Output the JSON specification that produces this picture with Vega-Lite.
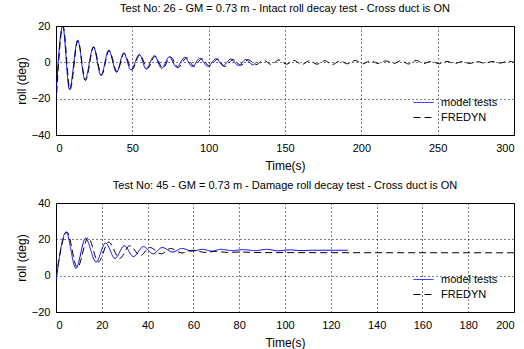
{
  "$schema": "https://vega.github.io/schema/vega-lite/v6.json",
  "background": "white",
  "padding": {"left": 14, "top": 2, "right": 0, "bottom": 2},
  "spacing": 7,
  "resolve": {"scale": {"color": "independent", "strokeDash": "independent"}},
  "config": {
    "font": "Liberation Sans",
    "view": {"stroke": "black", "strokeWidth": 1},
    "axis": {
      "labelFont": "Liberation Sans", "labelFontSize": 11, "labelColor": "black",
      "titleFont": "Liberation Sans", "titleFontSize": 12, "titleFontWeight": "normal", "titleColor": "black",
      "grid": true, "gridColor": "black", "gridDash": [1, 3], "gridOpacity": 1, "gridWidth": 1,
      "domain": false, "ticks": false, "labelPadding": 6
    },
    "axisX": {"titlePadding": 7, "labelPadding": 7},
    "axisY": {"titlePadding": 3},
    "title": {"font": "Liberation Sans", "fontSize": 11, "fontWeight": "normal", "color": "black", "offset": 6},
    "legend": {"labelFont": "Liberation Sans", "labelFontSize": 11, "labelColor": "black", "symbolType": "M-2,0H2", "symbolSize": 100, "symbolStrokeWidth": 1, "rowPadding": 3, "padding": 0, "labelOffset": 12}
  },
  "datasets": {
    "intact": [
      {"series": "model tests", "t": 0, "roll": -18},
      {"series": "model tests", "t": 4.4, "roll": 20},
      {"series": "model tests", "t": 8.8, "roll": -15},
      {"series": "model tests", "t": 14.2, "roll": 12.2},
      {"series": "model tests", "t": 19, "roll": -9.7},
      {"series": "model tests", "t": 24.5, "roll": 8.5},
      {"series": "model tests", "t": 29.5, "roll": -7.3},
      {"series": "model tests", "t": 34.5, "roll": 6.7},
      {"series": "model tests", "t": 39.7, "roll": -5.5},
      {"series": "model tests", "t": 44.3, "roll": 5.2},
      {"series": "model tests", "t": 49.1, "roll": -4.2},
      {"series": "model tests", "t": 54.6, "roll": 4.4},
      {"series": "model tests", "t": 59, "roll": -3.7},
      {"series": "model tests", "t": 64.4, "roll": 3.6},
      {"series": "model tests", "t": 69.2, "roll": -3.3},
      {"series": "model tests", "t": 74.2, "roll": 3},
      {"series": "model tests", "t": 79, "roll": -2.7},
      {"series": "model tests", "t": 84.3, "roll": 2.7},
      {"series": "model tests", "t": 89.3, "roll": -2.4},
      {"series": "model tests", "t": 94.2, "roll": 2.2},
      {"series": "model tests", "t": 99.4, "roll": -2.2},
      {"series": "model tests", "t": 104.8, "roll": 2},
      {"series": "model tests", "t": 109.5, "roll": -1.8},
      {"series": "model tests", "t": 114.5, "roll": 1.8},
      {"series": "model tests", "t": 119.5, "roll": -1.7},
      {"series": "model tests", "t": 124.5, "roll": 1.6},
      {"series": "model tests", "t": 129, "roll": -1.4},
      {"series": "model tests", "t": 131, "roll": 0},
      {"series": "FREDYN", "t": 0, "roll": -23},
      {"series": "FREDYN", "t": 4.6, "roll": 20},
      {"series": "FREDYN", "t": 9.2, "roll": -15},
      {"series": "FREDYN", "t": 14.4, "roll": 12},
      {"series": "FREDYN", "t": 19.3, "roll": -10},
      {"series": "FREDYN", "t": 24.7, "roll": 8.5},
      {"series": "FREDYN", "t": 29.8, "roll": -7},
      {"series": "FREDYN", "t": 34.8, "roll": 6.5},
      {"series": "FREDYN", "t": 40, "roll": -5.2},
      {"series": "FREDYN", "t": 44.7, "roll": 5},
      {"series": "FREDYN", "t": 49.7, "roll": -4},
      {"series": "FREDYN", "t": 55, "roll": 4.2},
      {"series": "FREDYN", "t": 59.8, "roll": -3.4},
      {"series": "FREDYN", "t": 65, "roll": 3.4},
      {"series": "FREDYN", "t": 70, "roll": -3.2},
      {"series": "FREDYN", "t": 75, "roll": 3},
      {"series": "FREDYN", "t": 80, "roll": -2.8},
      {"series": "FREDYN", "t": 85.5, "roll": 2.5},
      {"series": "FREDYN", "t": 90.5, "roll": -2.2},
      {"series": "FREDYN", "t": 95.5, "roll": 2},
      {"series": "FREDYN", "t": 100.5, "roll": -2},
      {"series": "FREDYN", "t": 106, "roll": 1.8},
      {"series": "FREDYN", "t": 110.5, "roll": -2.4},
      {"series": "FREDYN", "t": 116, "roll": 1.5},
      {"series": "FREDYN", "t": 121, "roll": -1.6},
      {"series": "FREDYN", "t": 126, "roll": 1.4},
      {"series": "FREDYN", "t": 131, "roll": -1.3},
      {"series": "FREDYN", "t": 136, "roll": 1.2},
      {"series": "FREDYN", "t": 141, "roll": -1.2},
      {"series": "FREDYN", "t": 146, "roll": 1.3},
      {"series": "FREDYN", "t": 151, "roll": -1},
      {"series": "FREDYN", "t": 156, "roll": 1},
      {"series": "FREDYN", "t": 161, "roll": -1.2},
      {"series": "FREDYN", "t": 166, "roll": 0.8},
      {"series": "FREDYN", "t": 171, "roll": -1},
      {"series": "FREDYN", "t": 176, "roll": 0.9},
      {"series": "FREDYN", "t": 181, "roll": -1.2},
      {"series": "FREDYN", "t": 186, "roll": 0.8},
      {"series": "FREDYN", "t": 191, "roll": -0.8},
      {"series": "FREDYN", "t": 196, "roll": 1},
      {"series": "FREDYN", "t": 201, "roll": -0.8},
      {"series": "FREDYN", "t": 206, "roll": 0.9},
      {"series": "FREDYN", "t": 211, "roll": -0.6},
      {"series": "FREDYN", "t": 216, "roll": 0.8},
      {"series": "FREDYN", "t": 221, "roll": -0.7},
      {"series": "FREDYN", "t": 226, "roll": 0.9},
      {"series": "FREDYN", "t": 231, "roll": -0.9},
      {"series": "FREDYN", "t": 236, "roll": 1},
      {"series": "FREDYN", "t": 241, "roll": -0.6},
      {"series": "FREDYN", "t": 246, "roll": 0.6},
      {"series": "FREDYN", "t": 251, "roll": -0.8},
      {"series": "FREDYN", "t": 256, "roll": 0.5},
      {"series": "FREDYN", "t": 261, "roll": -0.7},
      {"series": "FREDYN", "t": 266, "roll": 0.4},
      {"series": "FREDYN", "t": 271, "roll": -0.6},
      {"series": "FREDYN", "t": 276, "roll": 0.4},
      {"series": "FREDYN", "t": 281, "roll": -0.5},
      {"series": "FREDYN", "t": 286, "roll": 0.5},
      {"series": "FREDYN", "t": 291, "roll": -0.4},
      {"series": "FREDYN", "t": 296, "roll": 0.6},
      {"series": "FREDYN", "t": 300, "roll": 0}
    ],
    "damage": [
      {"series": "model tests", "t": 0, "roll": -3},
      {"series": "model tests", "t": 4.4, "roll": 24},
      {"series": "model tests", "t": 8.7, "roll": 4},
      {"series": "model tests", "t": 12.9, "roll": 20.5},
      {"series": "model tests", "t": 17.5, "roll": 7.5},
      {"series": "model tests", "t": 21.6, "roll": 18},
      {"series": "model tests", "t": 25.8, "roll": 9.5},
      {"series": "model tests", "t": 29.8, "roll": 16.5},
      {"series": "model tests", "t": 33.8, "roll": 10.5},
      {"series": "model tests", "t": 38.2, "roll": 16},
      {"series": "model tests", "t": 42.4, "roll": 12},
      {"series": "model tests", "t": 46.4, "roll": 15.5},
      {"series": "model tests", "t": 51, "roll": 13},
      {"series": "model tests", "t": 55, "roll": 15},
      {"series": "model tests", "t": 59.5, "roll": 13.5},
      {"series": "model tests", "t": 64, "roll": 14.5},
      {"series": "model tests", "t": 68, "roll": 13.5},
      {"series": "model tests", "t": 72, "roll": 14.5},
      {"series": "model tests", "t": 77, "roll": 13.8},
      {"series": "model tests", "t": 82, "roll": 14.3},
      {"series": "model tests", "t": 87, "roll": 13.8},
      {"series": "model tests", "t": 92, "roll": 14.5},
      {"series": "model tests", "t": 97, "roll": 13.7},
      {"series": "model tests", "t": 102, "roll": 14.2},
      {"series": "model tests", "t": 107, "roll": 13.8},
      {"series": "model tests", "t": 112, "roll": 14},
      {"series": "model tests", "t": 118, "roll": 14},
      {"series": "model tests", "t": 122, "roll": 14},
      {"series": "model tests", "t": 127.5, "roll": 14},
      {"series": "FREDYN", "t": 0, "roll": -1},
      {"series": "FREDYN", "t": 4.8, "roll": 24},
      {"series": "FREDYN", "t": 9.3, "roll": 4.5},
      {"series": "FREDYN", "t": 14.1, "roll": 21},
      {"series": "FREDYN", "t": 18.5, "roll": 7.5},
      {"series": "FREDYN", "t": 23, "roll": 18.5},
      {"series": "FREDYN", "t": 27.8, "roll": 9.5},
      {"series": "FREDYN", "t": 32.2, "roll": 16.5},
      {"series": "FREDYN", "t": 36.8, "roll": 11},
      {"series": "FREDYN", "t": 41, "roll": 15.5},
      {"series": "FREDYN", "t": 46, "roll": 12},
      {"series": "FREDYN", "t": 50, "roll": 15},
      {"series": "FREDYN", "t": 55, "roll": 12.5},
      {"series": "FREDYN", "t": 60, "roll": 14},
      {"series": "FREDYN", "t": 65, "roll": 12.8},
      {"series": "FREDYN", "t": 70, "roll": 13.4},
      {"series": "FREDYN", "t": 75, "roll": 12.8},
      {"series": "FREDYN", "t": 80, "roll": 13},
      {"series": "FREDYN", "t": 90, "roll": 12.7},
      {"series": "FREDYN", "t": 200, "roll": 12.6}
    ]
  },
  "vconcat": [
    {
      "width": 458, "height": 109,
      "title": "Test No: 26 - GM = 0.73 m - Intact roll decay test - Cross duct is ON",
      "data": {"name": "intact"},
      "mark": {"type": "line", "strokeWidth": 1, "interpolate": "monotone", "clip": true},
      "encoding": {
        "x": {"field": "t", "type": "quantitative", "title": "Time(s)", "scale": {"domain": [0, 300], "nice": false}, "axis": {"values": [0, 50, 100, 150, 200, 250, 300]}},
        "y": {"field": "roll", "type": "quantitative", "title": "roll (deg)", "scale": {"domain": [-40, 20], "nice": false}, "axis": {"values": [-40, -20, 0, 20]}},
        "color": {"field": "series", "type": "nominal", "scale": {"domain": ["model tests", "FREDYN"], "range": ["#0000ff", "#000000"]}, "legend": {"title": null, "orient": "none", "legendX": 362, "legendY": 71, "encode": {"symbols": {"update": {"strokeDash": {"signal": "datum.value === 'FREDYN' ? [7, 4] : [1, 0]"}}}}}},
        "strokeDash": {"field": "series", "type": "nominal", "scale": {"domain": ["model tests", "FREDYN"], "range": [[1, 0], [7, 4]]}, "legend": null}
      }
    },
    {
      "width": 458, "height": 109,
      "title": "Test No: 45 - GM = 0.73 m - Damage roll decay test - Cross duct is ON",
      "data": {"name": "damage"},
      "mark": {"type": "line", "strokeWidth": 1, "interpolate": "monotone", "clip": true},
      "encoding": {
        "x": {"field": "t", "type": "quantitative", "title": "Time(s)", "scale": {"domain": [0, 200], "nice": false}, "axis": {"values": [0, 20, 40, 60, 80, 100, 120, 140, 160, 180, 200]}},
        "y": {"field": "roll", "type": "quantitative", "title": "roll (deg)", "scale": {"domain": [-20, 40], "nice": false}, "axis": {"values": [-20, 0, 20, 40]}},
        "color": {"field": "series", "type": "nominal", "scale": {"domain": ["model tests", "FREDYN"], "range": ["#0000ff", "#000000"]}, "legend": {"title": null, "orient": "none", "legendX": 362, "legendY": 71, "encode": {"symbols": {"update": {"strokeDash": {"signal": "datum.value === 'FREDYN' ? [7, 4] : [1, 0]"}}}}}},
        "strokeDash": {"field": "series", "type": "nominal", "scale": {"domain": ["model tests", "FREDYN"], "range": [[1, 0], [7, 4]]}, "legend": null}
      }
    }
  ]
}
